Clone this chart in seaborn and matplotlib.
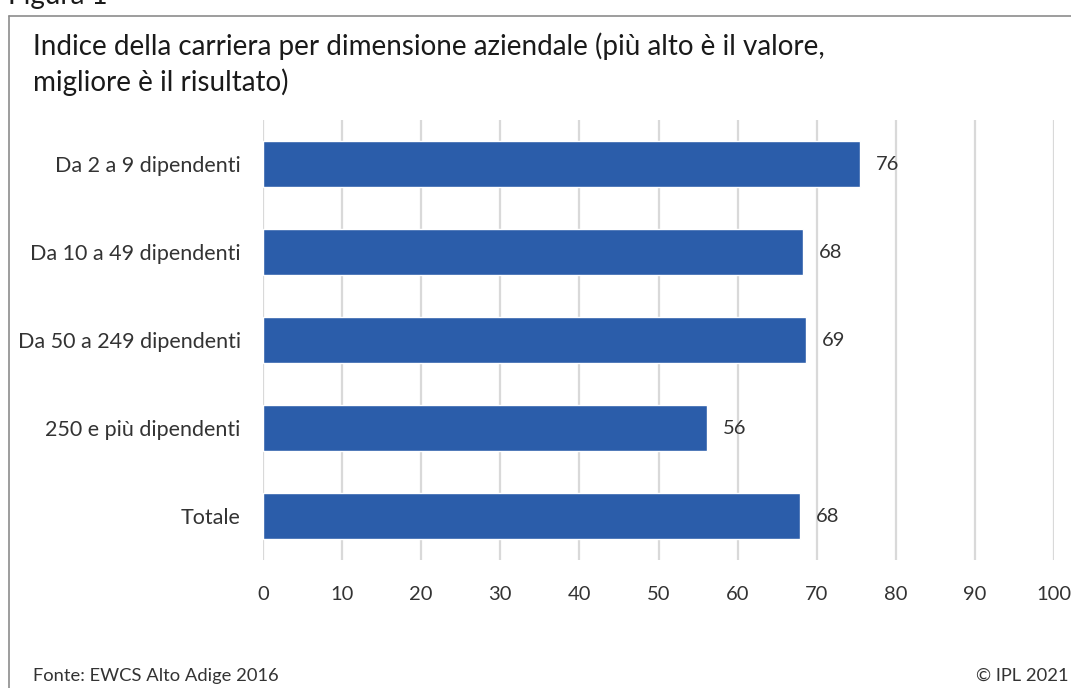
import matplotlib
matplotlib.use("Agg")
import matplotlib.pyplot as plt
import seaborn as sns
import pandas as pd
from matplotlib.lines import Line2D

categories = ["Da 2 a 9 dipendenti", "Da 10 a 49 dipendenti", "Da 50 a 249 dipendenti",
              "250 e più dipendenti", "Totale"]
values = [75.5, 68.3, 68.6, 56.1, 67.9]
xticks = [0, 10, 20, 30, 40, 50, 60, 70, 80, 90, 100]

sns.set_theme(style="white")
plt.rcParams['font.family'] = ['Lato', 'DejaVu Sans']

df = pd.DataFrame({"cat": categories, "val": values})

fig = plt.figure(figsize=(10.71, 6.88), dpi=100)
ax = fig.add_axes([263/1071, 1-560/688, (1054-263)/1071, 440/688])

sns.barplot(data=df, y="cat", x="val", color="#2B5DAA", saturation=1, width=0.52,
            orient="h", ax=ax, zorder=3)

for i, v in enumerate(values):
    ax.text(v + 2, i, f"{v:.0f}", va="center", ha="left", fontsize=14.5, color="#333333")

ax.set_xlim(0, 100)
ax.set_ylim(4.5, -0.5)
ax.set_xticks(xticks)
ax.set_xticklabels([str(t) for t in xticks], fontsize=14.5, color="#333333")
ax.tick_params(axis="y", labelsize=15.5, labelcolor="#333333", length=0, pad=16)
ax.tick_params(axis="x", length=0, pad=19)
ax.set_xlabel("")
ax.set_ylabel("")
ax.xaxis.grid(True, color="#D9D9D9", linewidth=1.6, zorder=0)
ax.set_axisbelow(True)
for s in ax.spines.values():
    s.set_visible(False)

fig.text(33/1071, 1-46/688, "Indice della carriera per dimensione aziendale (più alto è il valore,",
         fontsize=20, color="#1a1a1a", va="center", ha="left")
fig.text(33/1071, 1-82/688, "migliore è il risultato)",
         fontsize=20, color="#1a1a1a", va="center", ha="left")
fig.text(8/1071, 1-(-4)/688, "Figura 1", fontsize=20, color="#1a1a1a", va="center", ha="left")

fig.text(33/1071, 1-676/688, "Fonte: EWCS Alto Adige 2016", fontsize=13.2, color="#333333",
         va="center", ha="left")
fig.text(1069/1071, 1-676/688, "© IPL 2021", fontsize=13.2, color="#333333",
         va="center", ha="right")

fig.add_artist(Line2D([8.5/1071, 8.5/1071], [0, 1-16/688], transform=fig.transFigure,
                      color="#8C8C8C", linewidth=1.2))
fig.add_artist(Line2D([8.5/1071, 1], [1-16/688, 1-16/688], transform=fig.transFigure,
                      color="#8C8C8C", linewidth=1.2))

fig.savefig("out.png", dpi=100)
